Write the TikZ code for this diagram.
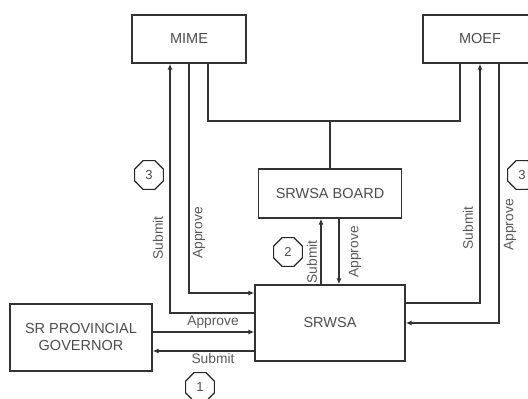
\documentclass[tikz,border=0pt]{standalone}
\usepackage{fontspec}
\setmainfont{Liberation Sans}
\usetikzlibrary{arrows.meta,shapes.geometric}
\begin{document}
\begin{tikzpicture}[
  x=1pt, y=-1pt,
  box/.style={rectangle, draw=black!80, line width=1.4pt, text=black!70, inner sep=0pt, align=center, font=\fontsize{14.5}{17}\selectfont},
  lbl/.style={text=black!65, inner sep=0pt, font=\fontsize{13.8}{15}\selectfont},
  stepno/.style={regular polygon, regular polygon sides=8, draw=black!85, line width=1.1pt, minimum size=31pt, inner sep=0pt, text=black!70, font=\fontsize{13}{14}\selectfont},
  arr/.style={-{Latex[length=6pt,width=5pt]}},
  line width=1.1pt, draw=black!80
]
  \useasboundingbox (0,0) rectangle (528,399);

  % boxes
  \node[box, minimum width=114pt, minimum height=48pt] (mime) at (189,39) {MIME};
  \node[box, minimum width=114pt, minimum height=48pt] (moef) at (480,39) {MOEF};
  \node[box, minimum width=143pt, minimum height=49pt] (board) at (330,193.5) {SRWSA BOARD};
  \node[box, minimum width=150pt, minimum height=76pt] (srwsa) at (330,323) {SRWSA};
  \node[box, minimum width=142pt, minimum height=67pt] (gov) at (81,337.5) {SR PROVINCIAL\\GOVERNOR};

  % MIME and MOEF to the board
  \coordinate (top) at (330,121);
  \draw ([xshift=19pt]mime.south) |- (top) -| ([xshift=-20pt]moef.south);
  \draw (top) -- (board.north);

  % step 3, MIME
  \draw[arr] ([yshift=10pt]srwsa.west) -| ([xshift=-19pt]mime.south);
  \draw[arr] (mime.south) |- ([yshift=30pt]srwsa.west);
  \node[lbl, rotate=90] (mimesub) at (158,238) {Submit};
  \node[lbl, rotate=90] (mimeapp) at (199,233) {Approve};
  \node[stepno] (three) at (149,175) {3};

  % step 3, MOEF
  \draw[arr] ([yshift=20pt]srwsa.east) -| (moef.south);
  \draw[arr] ([xshift=19pt]moef.south) |- (srwsa.east);
  \node[lbl, rotate=90] (moefsub) at (468,228) {Submit};
  \node[lbl, rotate=90] (moefapp) at (510,225) {Approve};
  \node[stepno] (three') at (522,175) {3};

  % step 2, board
  \draw[arr] ([xshift=-9pt]srwsa.north) -- ([xshift=-9pt]board.south);
  \draw[arr] ([xshift=9pt]board.south) -- ([xshift=9pt]srwsa.north);
  \node[lbl, rotate=90] (boardsub) at (312,262) {Submit};
  \node[lbl, rotate=90] (boardapp) at (355,252) {Approve};
  \node[stepno] (two) at (288,252) {2};

  % step 1, governor
  \coordinate (govin) at ([yshift=-9pt]srwsa.west);
  \coordinate (govout) at ([yshift=-28pt]srwsa.west);
  \draw[arr] (gov.east |- govin) -- (govin);
  \draw[arr] (govout) -- (gov.east |- govout);
  \node[lbl] (govapp) at (213,322) {Approve};
  \node[lbl] (govsub) at (213,359) {Submit};
  \node[stepno] (one) at (200,387) {1};
\end{tikzpicture}
\end{document}
